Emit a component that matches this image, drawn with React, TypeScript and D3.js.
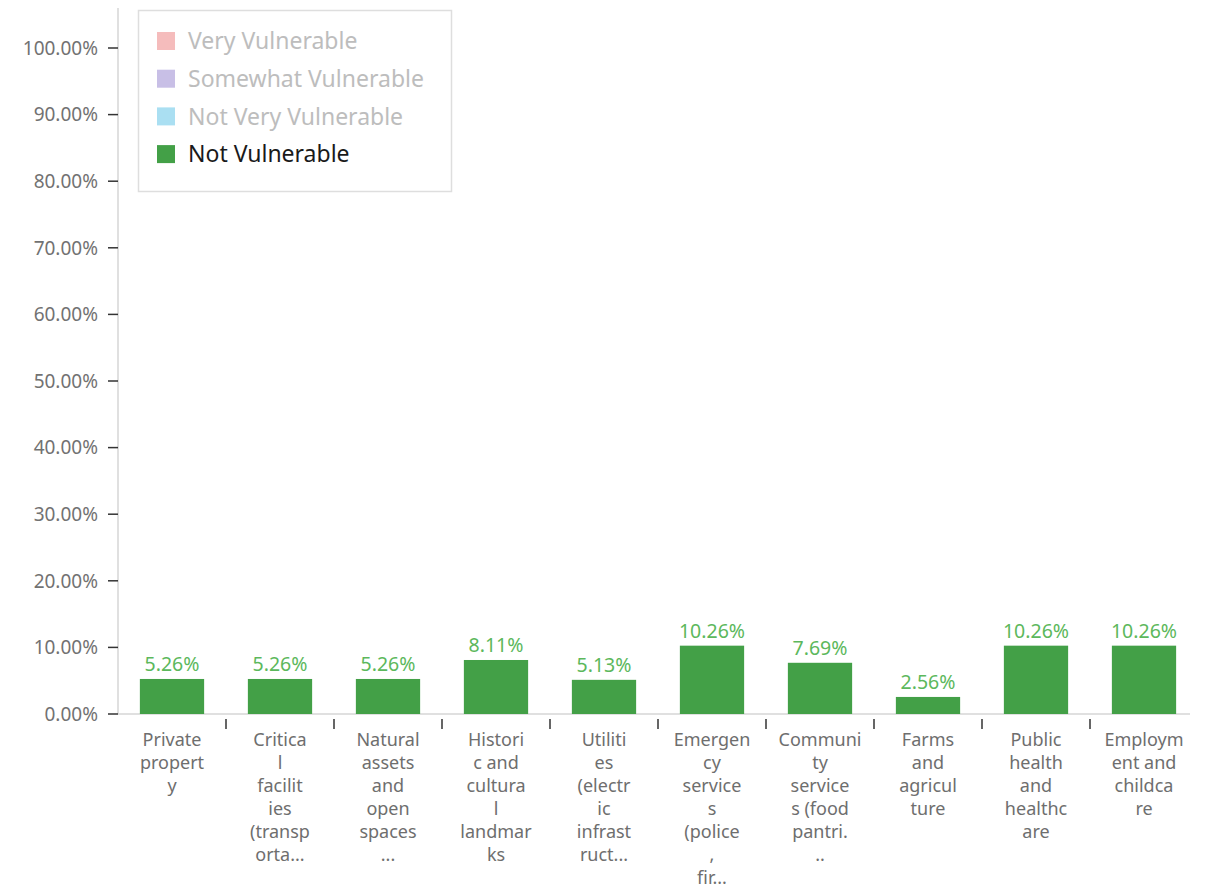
import React from "react";
import * as d3 from "d3";

const categories = [
  "Private property",
  "Critical facilities (transportation...)",
  "Natural assets and open spaces",
  "Historic and cultural landmarks",
  "Utilities (electric infrastructure...)",
  "Emergency services (police, fire...)",
  "Community services (food pantries...)",
  "Farms and agriculture",
  "Public health and healthcare",
  "Employment and childcare",
];
const tickLabelLines = [
  ["Private", "propert", "y"],
  ["Critica", "l", "facilit", "ies", "(transp", "orta..."],
  ["Natural", "assets", "and", "open", "spaces", "..."],
  ["Histori", "c and", "cultura", "l", "landmar", "ks"],
  ["Utiliti", "es", "(electr", "ic", "infrast", "ruct..."],
  ["Emergen", "cy", "service", "s", "(police", ",", "fir..."],
  ["Communi", "ty", "service", "s (food", "pantri.", ".."],
  ["Farms", "and", "agricul", "ture"],
  ["Public", "health", "and", "healthc", "are"],
  ["Employm", "ent and", "childca", "re"],
];
const notVulnerable = [5.26, 5.26, 5.26, 8.11, 5.13, 10.26, 7.69, 2.56, 10.26, 10.26];
const yTicks = [0, 10, 20, 30, 40, 50, 60, 70, 80, 90, 100];
const legendItems = ["Very Vulnerable", "Somewhat Vulnerable", "Not Very Vulnerable", "Not Vulnerable"];
const legendColors = ["#f5bcbc", "#c8bfe6", "#aadff2", "#43a047"];
const legendActive = [false, false, false, true];

const FONT = "'Noto Sans', 'DejaVu Sans', sans-serif";

export default function App() {
  const W = 1209, H = 895;
  const x0 = 118, x1 = 1198;
  const y = d3.scaleLinear().domain([0, 100]).range([714, 48]);
  const x = d3.scaleBand<number>().domain(d3.range(categories.length)).range([x0, x1]);
  const bw = x.bandwidth();
  const barW = bw * 0.595;

  return (
    <svg width={W} height={H} style={{ position: "absolute", left: 0, top: 0, display: "block", fontFamily: FONT }}>
      <line x1={x0} x2={x0} y1={8} y2={y(0)} stroke="#d6d6d6" strokeWidth={1.5} />
      {yTicks.map((t) => (
        <g key={t} transform={`translate(0,${y(t)})`}>
          <line x1={x0 - 10} x2={x0} stroke="#333" strokeWidth={1.5} />
          <text x={x0 - 20} dy="0.36em" textAnchor="end" fontSize={19} fill="#727272">
            {d3.format(".2f")(t)}%
          </text>
        </g>
      ))}
      <line x1={x0} x2={x1 - 8} y1={y(0)} y2={y(0)} stroke="#d6d6d6" strokeWidth={1.5} />
      {categories.map((c, i) => {
        if (i === 0) return null;
        const bx = x(i)!;
        return <line key={"t" + i} x1={bx} x2={bx} y1={y(0) + 5} y2={y(0) + 15} stroke="#333" strokeWidth={1.5} />;
      })}
      {notVulnerable.map((v, i) => {
        const cx = x(i)! + bw / 2;
        return (
          <g key={"b" + i}>
            <rect x={cx - barW / 2} y={y(v)} width={barW} height={y(0) - y(v)} fill="#43a047" />
            <text x={cx} y={y(v) - 8} textAnchor="middle" fontSize={19.5} fill="#5cb85c">
              {d3.format(".2f")(v)}%
            </text>
          </g>
        );
      })}
      {tickLabelLines.map((lines, i) => {
        const cx = x(i)! + bw / 2;
        return (
          <text key={"l" + i} textAnchor="middle" fontSize={18} fill="#6e6e6e">
            {lines.map((ln, j) => (
              <tspan key={j} x={cx} y={746 + j * 23}>{ln}</tspan>
            ))}
          </text>
        );
      })}
      <rect x={138.5} y={10.5} width={313} height={181} fill="#fff" stroke="#dedede" strokeWidth={1.5} />
      {legendItems.map((it, i) => (
        <g key={it} transform={`translate(157,${41 + i * 37.7})`}>
          <rect x={0} y={-9} width={18} height={18} fill={legendColors[i]} />
          <text x={31} dy="0.36em" fontSize={23} fill={legendActive[i] ? "#1a1a1a" : "#bdbdbd"}>{it}</text>
        </g>
      ))}
    </svg>
  );
}
